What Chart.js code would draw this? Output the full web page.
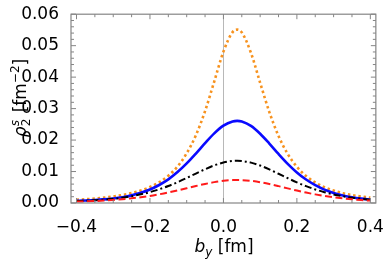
<!DOCTYPE html>
<html><head><meta charset="utf-8">
<script src="https://cdn.jsdelivr.net/npm/chart.js@4"></script>
<style>html,body{margin:0;padding:0;background:#fff}</style>
</head><body>
<canvas id="c" width="390" height="260"></canvas>
<script>
// b_y positions [fm]
const bY = [-0.4,-0.375,-0.35,-0.325,-0.3,-0.275,-0.25,-0.225,-0.2,-0.175,-0.15,-0.125,-0.1,-0.075,-0.05,-0.025,0,0.025,0.0375,0.05,0.075,0.1,0.125,0.15,0.175,0.2,0.225,0.25,0.275,0.3,0.325,0.35,0.375,0.4];
// rho_2^s [fm^-2]
const rhoOrange = [0.00102,0.0012,0.00143,0.00172,0.00208,0.00255,0.00316,0.00398,0.00508,0.00659,0.00867,0.0116,0.0158,0.0215,0.0292,0.0386,0.0481,0.0543,0.0551,0.0542,0.0477,0.0382,0.0289,0.0213,0.0156,0.0115,0.00858,0.00652,0.00503,0.00394,0.00313,0.00253,0.00206,0.0017];
const rhoBlue = [0.0007,0.0008,0.00095,0.00115,0.00145,0.00185,0.00242,0.00323,0.00429,0.00572,0.00752,0.00982,0.01257,0.01572,0.01902,0.02213,0.02459,0.02594,0.0261,0.02591,0.02451,0.02202,0.0189,0.01558,0.01245,0.00972,0.00745,0.00565,0.00424,0.00319,0.0024,0.0018,0.00138,0.00108];
const rhoBlack = [0.00062,0.00072,0.00088,0.00108,0.00134,0.00171,0.00217,0.00275,0.00346,0.00435,0.00539,0.0066,0.00794,0.00936,0.01073,0.01195,0.01286,0.01334,0.0134,0.01333,0.01283,0.0119,0.01068,0.0093,0.00789,0.00655,0.00535,0.00431,0.00343,0.00272,0.00215,0.00169,0.00133,0.00105];
const rhoRed = [0.00045,0.00052,0.00063,0.00077,0.00096,0.0012,0.00148,0.00184,0.00226,0.00277,0.00334,0.00399,0.00468,0.00539,0.00605,0.00663,0.00705,0.00727,0.0073,0.00727,0.00704,0.00661,0.00603,0.00536,0.00465,0.00396,0.00332,0.00274,0.00224,0.00182,0.00147,0.00119,0.00095,0.00077];

const xTicks = [-0.4,-0.2,0,0.2,0.4];
const xTickLabels = ['\u22120.4','\u22120.2','0.0','0.2','0.4'];
const yTicks = [0,0.01,0.02,0.03,0.04,0.05,0.06];
const yTickLabels = ['0.00','0.01','0.02','0.03','0.04','0.05','0.06'];

const FONT = 'DejaVu Sans';
const pts = arr => bY.map((x,i)=>({x:x,y:arr[i]}));

const framePlugin = {
  id:'frame',
  beforeDatasetsDraw(chart){
    const {ctx, chartArea:a, scales:{x}} = chart;
    const px = Math.round(x.getPixelForValue(0)) + 0.5;
    ctx.save();
    ctx.strokeStyle = '#b8b8b8'; ctx.lineWidth = 1;
    ctx.beginPath(); ctx.moveTo(px, a.top); ctx.lineTo(px, a.bottom); ctx.stroke();
    ctx.restore();
  },
  afterDatasetsDraw(chart){
    const {ctx, chartArea:a, scales:{x, y}} = chart;
    ctx.save();
    ctx.strokeStyle = '#858585'; ctx.lineWidth = 1.2;
    ctx.strokeRect(a.left, a.top, a.right - a.left, a.bottom - a.top);
    ctx.lineWidth = 1;
    ctx.beginPath();
    for (let k = -8; k <= 8; k++) {
      const px = x.getPixelForValue(k * 0.05);
      const L = (k % 4 === 0) ? 5 : 3;
      ctx.moveTo(px, a.bottom); ctx.lineTo(px, a.bottom - L);
      ctx.moveTo(px, a.top); ctx.lineTo(px, a.top + L);
    }
    for (let k = 0; k <= 30; k++) {
      const py = y.getPixelForValue(k * 0.002);
      const L = (k % 5 === 0) ? 5 : 3;
      ctx.moveTo(a.left, py); ctx.lineTo(a.left + L, py);
      ctx.moveTo(a.right, py); ctx.lineTo(a.right - L, py);
    }
    ctx.stroke();
    ctx.restore();
  },
  afterDraw(chart){
    const ctx = chart.ctx;
    const big = '17px "' + FONT + '"', bigI = 'italic 17px "' + FONT + '"', sm = '12px "' + FONT + '"', smI = 'italic 12px "' + FONT + '"';
    ctx.save();
    ctx.fillStyle = '#000';
    ctx.textAlign = 'left'; ctx.textBaseline = 'alphabetic';
    // x title: b_y [fm]
    const xp = [[bigI,'b',0,'adv'],[smI,'y',4,'adv'],[big,' [fm]',0,'adv']];
    let w = 0; xp.forEach(p=>{ctx.font=p[0]; w += ctx.measureText(p[1]).width;});
    let cx = 224 - w/2;
    xp.forEach(p=>{ctx.font=p[0]; ctx.fillText(p[1], cx, 252 + p[2]); cx += ctx.measureText(p[1]).width;});
    // y title: rho_2^s [fm^-2]
    ctx.translate(26, 98); ctx.rotate(-Math.PI/2);
    ctx.font = bigI; const wr = ctx.measureText('\u03c1').width;
    ctx.font = sm; const w2 = ctx.measureText('2').width;
    ctx.font = smI; const ws = ctx.measureText('s').width;
    ctx.font = big; const wf = ctx.measureText(' [fm').width, wb = ctx.measureText(']').width;
    ctx.font = sm; const wm = ctx.measureText('\u22122').width;
    const tot = wr + Math.max(w2, ws) + 1 + wf + wm + wb;
    let t = -tot/2;
    ctx.font = bigI; ctx.fillText('\u03c1', t, 0); t += wr;
    ctx.font = sm; ctx.fillText('2', t, 4);
    ctx.font = smI; ctx.fillText('s', t, -7); t += Math.max(w2, ws) + 1;
    ctx.font = big; ctx.fillText(' [fm', t, 0); t += wf;
    ctx.font = sm; ctx.fillText('\u22122', t, -7); t += wm;
    ctx.font = big; ctx.fillText(']', t, 0);
    ctx.restore();
  }
};

new Chart(document.getElementById('c'), {
  type: 'line',
  data: {
    datasets: [
      {data: pts(rhoRed), borderColor:'#ff1a1a', borderWidth:2, borderDash:[7,3.5]},
      {data: pts(rhoBlack), borderColor:'#000000', borderWidth:2, borderDash:[7,3,2,3]},
      {data: pts(rhoBlue), borderColor:'#0a0aff', borderWidth:2.6},
      {data: pts(rhoOrange), borderColor:'#f7921e', borderWidth:2.6, borderDash:[2.5,2.8]}
    ]
  },
  options: {
    responsive:false, animation:false, devicePixelRatio:1,
    layout:{padding:{top:11, right:8, left:0, bottom:0}},
    elements:{point:{radius:0}, line:{cubicInterpolationMode:'monotone', borderCapStyle:'butt', fill:false}},
    plugins:{legend:{display:false}, tooltip:{enabled:false}},
    scales:{
      x:{type:'linear', min:-0.415, max:0.415,
        grid:{display:false}, border:{display:false},
        afterBuildTicks: s => { s.ticks = xTicks.map(v=>({value:v})); },
        ticks:{callback:(v,i)=>xTickLabels[i], font:{family:FONT, size:17}, color:'#000', padding:6, maxRotation:0, autoSkip:false},
        afterFit: s => { s.height = 57; }
      },
      y:{type:'linear', min:0, max:0.06,
        grid:{display:false}, border:{display:false},
        afterBuildTicks: s => { s.ticks = yTicks.map(v=>({value:v})); },
        ticks:{callback:(v,i)=>yTickLabels[i], font:{family:FONT, size:17}, color:'#000', padding:4, autoSkip:false},
        afterFit: s => { s.width = 71; }
      }
    }
  },
  plugins:[framePlugin]
});
</script>
</body></html>
